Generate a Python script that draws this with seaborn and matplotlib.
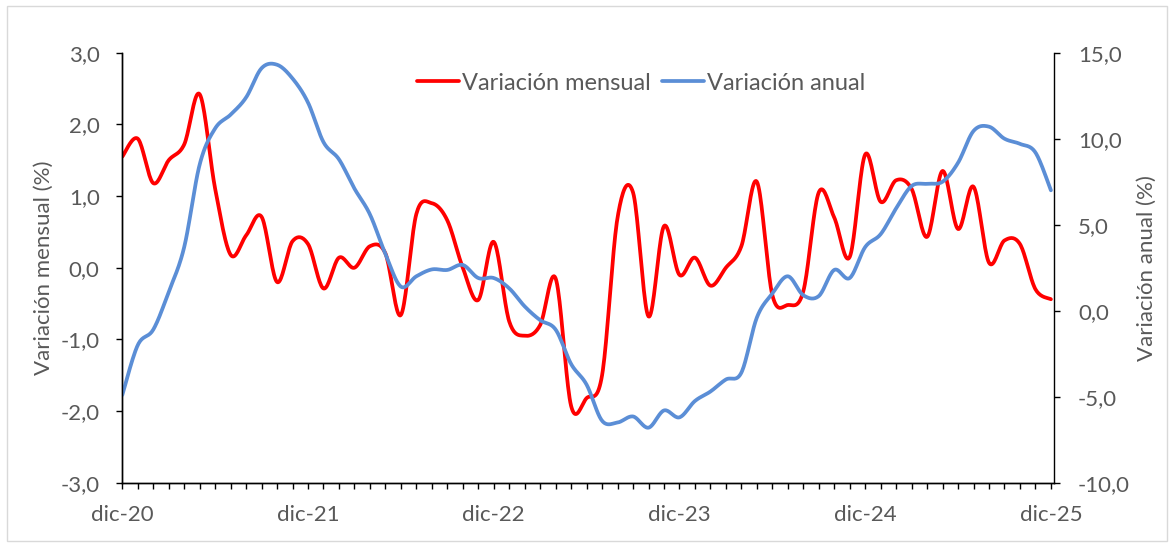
import numpy as np
import pandas as pd
import seaborn as sns
import matplotlib.pyplot as plt
from matplotlib.lines import Line2D
from matplotlib.patches import Rectangle
from matplotlib.ticker import FixedLocator, FuncFormatter

# monthly data, dic-20 .. dic-25
months = list(range(61))
tick_pos = [0, 12, 24, 36, 48, 60]
tick_labels = ["dic-20", "dic-21", "dic-22", "dic-23", "dic-24", "dic-25"]

mensual = [1.55, 1.80, 1.18, 1.50, 1.72, 2.42, 1.10, 0.18, 0.45, 0.71,
           -0.20, 0.37, 0.33, -0.29, 0.14, 0.00, 0.30, 0.20, -0.66, 0.75,
           0.90, 0.66, 0.00, -0.45, 0.36, -0.75, -0.95, -0.80, -0.15, -1.93,
           -1.82, -1.50, 0.70, 1.05, -0.68, 0.58, -0.10, 0.14, -0.25, 0.00,
           0.30, 1.20, -0.38, -0.52, -0.33, 1.05, 0.70, 0.15, 1.58, 0.92,
           1.22, 1.10, 0.43, 1.35, 0.54, 1.13, 0.07, 0.38, 0.33, -0.30,
           -0.44]

anual = [-4.9, -2.0, -1.1, 1.1, 3.7, 8.5, 10.6, 11.4, 12.4, 14.1,
         14.3, 13.5, 12.1, 9.8, 8.8, 7.1, 5.6, 3.3, 1.4, 2.0,
         2.4, 2.37, 2.66, 1.9, 1.9, 1.3, 0.25, -0.55, -1.1, -3.1,
         -4.3, -6.4, -6.5, -6.15, -6.8, -5.8, -6.2, -5.25, -4.7, -4.0,
         -3.6, -0.4, 1.0, 2.0, 0.9, 0.85, 2.37, 1.9, 3.7, 4.45,
         5.95, 7.25, 7.38, 7.5, 8.6, 10.45, 10.7, 10.0, 9.7, 9.2,
         7.0]

RED = "#FF0000"
BLUE = "#5B8ED6"
TXT = "#595959"


def smooth(xs, ys, steps=20):
    """excel-like smoothed line: cubic bezier through every point"""
    x = np.asarray(xs, float)
    y = np.asarray(ys, float)
    px = np.concatenate([[x[0]], x, [x[-1]]])
    py = np.concatenate([[y[0]], y, [y[-1]]])
    t = np.linspace(0, 1, steps, endpoint=False)[:, None]
    out_x, out_y = [], []
    for p, o in ((px, out_x), (py, out_y)):
        p0 = p[1:-2]
        p1 = p[2:-1]
        c1 = p0 + (p[2:-1] - p[0:-3]) / 6
        c2 = p1 - (p[3:] - p[1:-2]) / 6
        b = ((1 - t) ** 3 * p0 + 3 * (1 - t) ** 2 * t * c1
             + 3 * (1 - t) * t ** 2 * c2 + t ** 3 * p1)
        o.extend(np.append(b.T.ravel(), p[-2]))
    return np.array(out_x), np.array(out_y)


sns.set_theme(style="white")
plt.rcParams['font.family'] = ['Lato', 'DejaVu Sans']
plt.rcParams['font.size'] = 16

fig = plt.figure(figsize=(11.75, 5.48), dpi=100)
fig.patches.append(Rectangle((7 / 1175, 7 / 548), 1160 / 1175, 535 / 548,
                             transform=fig.transFigure, fill=False,
                             edgecolor="#D9D9D9", linewidth=1))

ax = fig.add_axes([122.3 / 1175, 65.3 / 548, 931.7 / 1175, 430 / 548])
ax2 = ax.twinx()

sx, sy = smooth(months, mensual)
df_m = pd.DataFrame({"mes": sx, "valor": sy})
sns.lineplot(data=df_m, x="mes", y="valor", ax=ax, color=RED, linewidth=2.7,
             sort=False, estimator=None, legend=False)

sx, sy = smooth(months, anual)
df_a = pd.DataFrame({"mes": sx, "valor": sy})
sns.lineplot(data=df_a, x="mes", y="valor", ax=ax2, color=BLUE, linewidth=2.7,
             sort=False, estimator=None, legend=False)

ax.set_xlim(0, 60.2)
ax.set_ylim(-3, 3)
ax2.set_ylim(-10, 15)

ax.set_yticks(np.arange(-3, 3.01, 1))
ax2.set_yticks(np.arange(-10, 15.01, 5))
fmt = FuncFormatter(lambda v, p: f"{v:.1f}".replace(".", ","))
ax.yaxis.set_major_formatter(fmt)
ax2.yaxis.set_major_formatter(fmt)

ax.set_xticks(tick_pos)
ax.set_xticklabels(tick_labels)
ax.xaxis.set_minor_locator(FixedLocator(months))

for a in (ax, ax2):
    for s in a.spines.values():
        s.set_color("black")
        s.set_linewidth(1.0)
    a.spines["top"].set_visible(False)
    a.tick_params(axis="both", which="both", colors="black", labelcolor=TXT,
                  labelsize=16, length=4.3, width=1.0, direction="out")
ax.spines["right"].set_visible(False)
ax.tick_params(axis="y", left=True, pad=12)
ax.tick_params(axis="x", which="both", bottom=True, pad=12)
ax2.tick_params(axis="y", right=True, pad=13)

ax.set_xlabel("")
ax.set_ylabel("Variación mensual (%)", color=TXT, fontsize=16)
ax2.set_ylabel("Variación anual (%)", color=TXT, fontsize=16)
ax.yaxis.set_label_coords(-0.073, 0.5)
ax2.yaxis.set_label_coords(1.089, 0.5)

handles = [Line2D([], [], color=RED, linewidth=2.7),
           Line2D([], [], color=BLUE, linewidth=2.7)]
leg = fig.legend(handles, ["Variación mensual", "Variación anual"],
                 loc="center", bbox_to_anchor=(641 / 1175, 1 - 83 / 548),
                 ncol=2, frameon=False, fontsize=17, handlelength=1.8,
                 handletextpad=0.12, columnspacing=0.45)
for t in leg.get_texts():
    t.set_color(TXT)

fig.savefig("out.png", dpi=100)
